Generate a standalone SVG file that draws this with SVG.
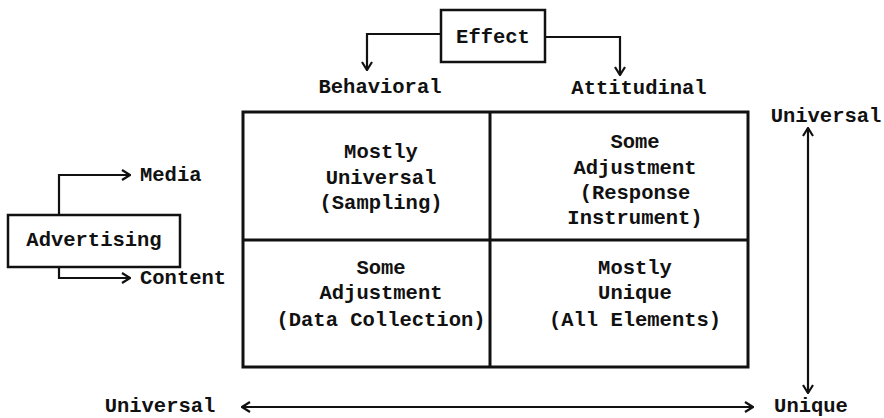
<svg xmlns="http://www.w3.org/2000/svg" width="884" height="418" viewBox="0 0 884 418">
  <style>
    text { font-family: "Liberation Mono", "Courier New", monospace; font-weight: bold; font-size: 20.5px; fill: #111; }
    .c { text-anchor: middle; }
    .box { fill: #fff; stroke: #111; stroke-width: 2.5; }
    .grid { fill: none; stroke: #111; stroke-width: 3; }
    .conn { fill: none; stroke: #111; stroke-width: 2.2; }
  </style>
  <defs>
    <marker id="head" viewBox="0 0 12 12" refX="11" refY="6" markerWidth="12" markerHeight="12" markerUnits="userSpaceOnUse" orient="auto-start-reverse">
      <polyline points="3,1 11,6 3,11" fill="none" stroke="#111" stroke-width="2.2"/>
    </marker>
  </defs>
  <rect width="884" height="418" fill="#fff"/>

  <!-- matrix -->
  <g id="matrix">
    <rect class="grid" x="243" y="112" width="505" height="255"/>
    <line class="grid" x1="490" y1="112" x2="490" y2="367"/>
    <line class="grid" x1="243" y1="240" x2="748" y2="240"/>
  </g>

  <g id="cell-behavioral-universal">
    <text class="c" x="381" y="158">Mostly</text>
    <text class="c" x="381" y="184">Universal</text>
    <text class="c" x="381" y="209">(Sampling)</text>
  </g>
  <g id="cell-attitudinal-universal">
    <text class="c" x="635" y="148">Some</text>
    <text class="c" x="635" y="174">Adjustment</text>
    <text class="c" x="635" y="199">(Response</text>
    <text class="c" x="635" y="224">Instrument)</text>
  </g>
  <g id="cell-behavioral-unique">
    <text class="c" x="381" y="274">Some</text>
    <text class="c" x="381" y="299">Adjustment</text>
    <text class="c" x="381" y="326">(Data Collection)</text>
  </g>
  <g id="cell-attitudinal-unique">
    <text class="c" x="635" y="274">Mostly</text>
    <text class="c" x="635" y="299">Unique</text>
    <text class="c" x="635" y="326">(All Elements)</text>
  </g>

  <!-- nodes -->
  <g id="effect">
    <rect class="box" x="441" y="10" width="104" height="52"/>
    <text class="c" x="493" y="43">Effect</text>
  </g>
  <g id="behavioral"><text class="c" x="380" y="93">Behavioral</text></g>
  <g id="attitudinal"><text class="c" x="639" y="94">Attitudinal</text></g>

  <g id="advertising">
    <rect class="box" x="8" y="215" width="172" height="52"/>
    <text class="c" x="94" y="246">Advertising</text>
  </g>
  <g id="media"><text x="140" y="181">Media</text></g>
  <g id="content"><text x="140" y="284">Content</text></g>

  <g id="universal-top"><text class="c" x="826" y="122">Universal</text></g>
  <g id="unique-bottom"><text class="c" x="811" y="412">Unique</text></g>
  <g id="universal-left"><text class="c" x="160" y="412">Universal</text></g>

  <!-- connectors -->
  <g id="connectors">
    <polyline class="conn" points="441,34 367,34 367,70" marker-end="url(#head)"/>
    <polyline class="conn" points="545,37 620,37 620,75" marker-end="url(#head)"/>
    <polyline class="conn" points="59,215 59,175 130,175" marker-end="url(#head)"/>
    <polyline class="conn" points="59,267 59,278 130,278" marker-end="url(#head)"/>
    <line class="conn" x1="808" y1="128" x2="808" y2="393" marker-start="url(#head)" marker-end="url(#head)"/>
    <line class="conn" x1="242" y1="407" x2="753" y2="407" marker-start="url(#head)" marker-end="url(#head)"/>
  </g>
</svg>
